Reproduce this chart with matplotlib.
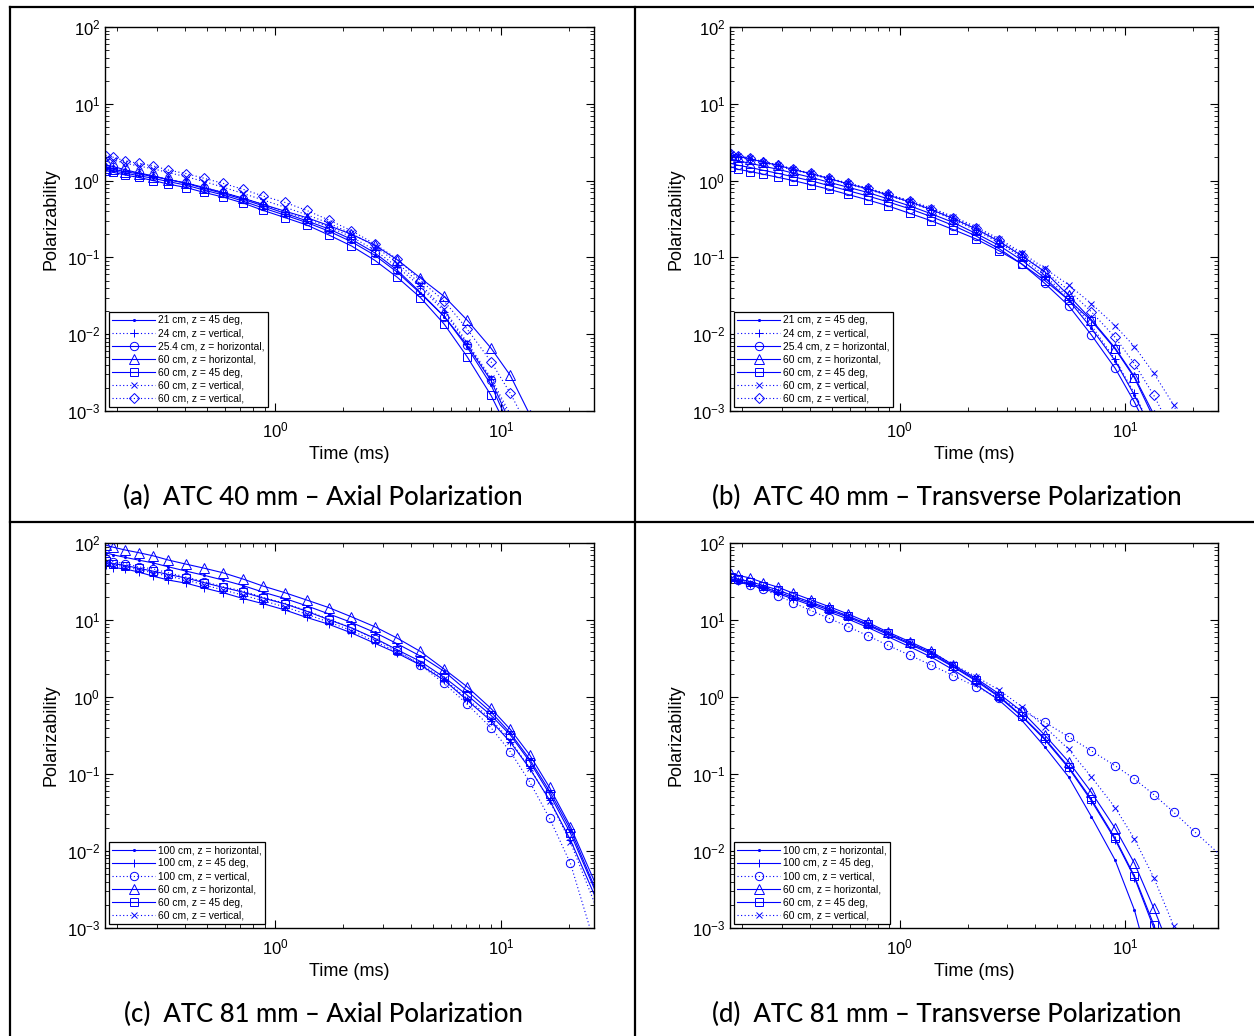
import numpy as np
import matplotlib
matplotlib.use("Agg")
import matplotlib.pyplot as plt
from matplotlib.lines import Line2D

plt.rcParams['font.family'] = ['Liberation Sans', 'DejaVu Sans']
plt.rcParams['mathtext.fontset'] = 'custom'
plt.rcParams['mathtext.rm'] = 'Liberation Sans'

# time gates (ms)
t = [0.178, 0.193, 0.218, 0.249, 0.290, 0.338, 0.406, 0.487, 0.590, 0.723, 0.885,
     1.107, 1.38, 1.73, 2.18, 2.76, 3.48, 4.40, 5.61, 7.08, 9.03, 11.0, 13.4, 16.4,
     20.3, 28.0]

# (a) ATC 40 mm - axial
a_21_45 = [1.40, 1.34, 1.25, 1.16, 1.07, 0.97, 0.87, 0.75, 0.65, 0.54, 0.44, 0.355, 0.285,
           0.22, 0.16, 0.107, 0.064, 0.034, 0.017, 0.0068, 0.0022, 0.0006, 0.0001]
a_24_vert = [1.50, 1.44, 1.34, 1.24, 1.14, 1.04, 0.93, 0.81, 0.70, 0.59, 0.49, 0.39, 0.32,
             0.25, 0.185, 0.125, 0.075, 0.042, 0.0196, 0.0075, 0.0026, 0.0008, 0.0001]
a_25_hor = [1.60, 1.52, 1.38, 1.26, 1.15, 1.03, 0.92, 0.79, 0.68, 0.57, 0.47, 0.375, 0.30,
            0.235, 0.172, 0.115, 0.068, 0.035, 0.017, 0.0072, 0.0025, 0.0007, 0.0001]
a_60_hor = [1.45, 1.40, 1.31, 1.22, 1.13, 1.03, 0.93, 0.81, 0.70, 0.59, 0.49, 0.40, 0.33,
            0.26, 0.20, 0.145, 0.093, 0.054, 0.031, 0.0153, 0.0066, 0.0029, 0.0009, 0.0002]
a_60_45 = [1.35, 1.28, 1.18, 1.10, 1.00, 0.90, 0.81, 0.70, 0.61, 0.51, 0.41, 0.33, 0.265,
           0.196, 0.141, 0.092, 0.055, 0.030, 0.0135, 0.0051, 0.0016, 0.0005, 0.0001]
a_60_vert = [1.95, 1.85, 1.68, 1.55, 1.42, 1.27, 1.12, 0.97, 0.82, 0.68, 0.56, 0.45, 0.36,
             0.28, 0.205, 0.14, 0.085, 0.045, 0.021, 0.0078, 0.0027, 0.0009, 0.0002]
a_60_vert2 = [2.11, 2.01, 1.80, 1.68, 1.55, 1.37, 1.23, 1.07, 0.92, 0.77, 0.63, 0.52, 0.41,
              0.307, 0.223, 0.15, 0.095, 0.05, 0.027, 0.0117, 0.0044, 0.0017, 0.00056, 0.0001]

# (b) ATC 40 mm - transverse
b_21_45 = [1.90, 1.80, 1.68, 1.54, 1.40, 1.25, 1.10, 0.95, 0.82, 0.70, 0.58, 0.47, 0.37,
           0.285, 0.205, 0.143, 0.092, 0.054, 0.028, 0.012, 0.0045, 0.0016, 0.0005, 0.0001]
b_24_vert = [2.10, 2.00, 1.88, 1.70, 1.55, 1.37, 1.21, 1.04, 0.90, 0.77, 0.64, 0.52, 0.41,
             0.31, 0.225, 0.155, 0.10, 0.058, 0.030, 0.013, 0.0047, 0.0017, 0.0005, 0.0001]
b_25_hor = [1.68, 1.58, 1.48, 1.36, 1.24, 1.12, 0.99, 0.86, 0.74, 0.63, 0.53, 0.43, 0.34,
            0.26, 0.19, 0.13, 0.082, 0.046, 0.0236, 0.0098, 0.0036, 0.0013, 0.0004, 0.0001]
b_60_hor = [2.15, 2.05, 1.92, 1.74, 1.58, 1.39, 1.23, 1.06, 0.91, 0.78, 0.65, 0.53, 0.42,
            0.32, 0.235, 0.162, 0.105, 0.065, 0.032, 0.0155, 0.0066, 0.0028, 0.0009, 0.0002]
b_60_45 = [1.52, 1.40, 1.31, 1.21, 1.10, 1.00, 0.88, 0.77, 0.66, 0.56, 0.47, 0.375, 0.30,
           0.23, 0.174, 0.122, 0.082, 0.05, 0.028, 0.015, 0.0064, 0.0027, 0.0008, 0.0002]
b_60_vert = [2.22, 2.09, 1.95, 1.76, 1.60, 1.41, 1.25, 1.08, 0.93, 0.80, 0.67, 0.55, 0.44,
             0.34, 0.25, 0.175, 0.115, 0.072, 0.044, 0.025, 0.0129, 0.0069, 0.0031, 0.0012,
             0.0003]
b_60_vert2 = [2.25, 2.10, 1.95, 1.77, 1.60, 1.40, 1.24, 1.07, 0.92, 0.79, 0.66, 0.54, 0.43,
              0.33, 0.24, 0.168, 0.108, 0.066, 0.0375, 0.0196, 0.0091, 0.0041, 0.0016, 0.0005,
              0.0001]

# (c) ATC 81 mm - axial
c_100_hor = [75, 70, 65, 60, 55, 49, 43, 38, 33, 28, 23, 19, 15.3, 12, 9.3, 6.9, 4.9, 3.4,
             2.15, 1.2, 0.64, 0.34, 0.155, 0.06, 0.019, 0.002]
c_100_45 = [52, 48, 46, 42, 37, 33, 30, 26, 22.6, 19, 16.3, 13.5, 10.8, 8.8, 6.8, 5.0, 3.7,
            2.6, 1.65, 0.91, 0.49, 0.26, 0.118, 0.046, 0.0139, 0.0016]
c_100_vert = [62, 57, 54, 49, 46, 41, 36, 31.5, 27, 23.8, 19.7, 16.5, 13.2, 10.3, 7.9, 5.7,
              4.0, 2.6, 1.5, 0.81, 0.40, 0.195, 0.079, 0.0266, 0.0069, 0.0003]
c_60_hor = [94, 88, 81, 75, 68, 60, 53, 47, 41, 34, 27.6, 22.6, 18.2, 14.5, 11.0, 8.2, 5.8,
            3.9, 2.3, 1.36, 0.71, 0.38, 0.177, 0.067, 0.0207, 0.0024]
c_60_45 = [58, 54, 51, 47, 43, 39, 35, 30.5, 26.5, 23, 19.3, 16.2, 13.0, 10.1, 7.9, 5.8, 4.1,
           2.9, 1.8, 1.06, 0.58, 0.32, 0.145, 0.055, 0.017, 0.0019]
c_60_vert = [56, 52, 49, 45, 41, 37, 33, 28.5, 24.5, 21, 17.8, 14.8, 11.9, 9.4, 7.3, 5.3,
             3.85, 2.7, 1.7, 0.95, 0.52, 0.27, 0.12, 0.045, 0.013, 0.0012]

# (d) ATC 81 mm - transverse
d_100_hor = [33, 31, 28.5, 25.5, 22, 18.7, 15.5, 12.7, 10.3, 8.0, 6.1, 4.5, 3.3, 2.25, 1.45,
             0.91, 0.5, 0.226, 0.092, 0.028, 0.0076, 0.0017, 0.0002]
d_100_45 = [34, 32, 29.5, 26.5, 23, 19.5, 16.3, 13.4, 10.9, 8.5, 6.5, 4.85, 3.6, 2.45, 1.62,
            1.0, 0.56, 0.28, 0.12, 0.045, 0.014, 0.0045, 0.001, 0.0002]
d_100_vert = [36, 33, 28.5, 25, 20.7, 16.8, 13.2, 10.5, 8.2, 6.25, 4.7, 3.5, 2.6, 1.9, 1.36,
              0.96, 0.66, 0.47, 0.305, 0.20, 0.128, 0.086, 0.054, 0.032, 0.0178, 0.0076]
d_60_hor = [40, 38, 35, 30.5, 26.6, 22.2, 18.2, 14.9, 12, 9.3, 7.0, 5.25, 3.9, 2.6, 1.75,
            1.1, 0.65, 0.32, 0.145, 0.058, 0.0197, 0.0069, 0.0018, 0.0004]
d_60_45 = [36, 34, 31.5, 28, 24.5, 20.5, 17, 14, 11.3, 8.8, 6.7, 5.0, 3.75, 2.5, 1.68, 1.03,
           0.57, 0.29, 0.124, 0.047, 0.0146, 0.0047, 0.0011, 0.0002]
d_60_vert = [35, 33, 30, 27, 23.5, 20, 16.8, 13.8, 11.2, 8.8, 6.8, 5.1, 3.85, 2.65, 1.84,
             1.23, 0.75, 0.41, 0.21, 0.092, 0.0366, 0.0143, 0.0045, 0.00107, 0.0002]

labels_40 = ['21 cm, z = 45 deg,', '24 cm, z = vertical,', '25.4 cm, z = horizontal,',
             '60 cm, z = horizontal,', '60 cm, z = 45 deg,', '60 cm, z = vertical,',
             '60 cm, z = vertical,']
labels_81 = ['100 cm, z = horizontal,', '100 cm, z = 45 deg,', '100 cm, z = vertical,',
             '60 cm, z = horizontal,', '60 cm, z = 45 deg,', '60 cm, z = vertical,']
styles_40 = [('-', '.'), (':', '+'), ('-', 'o'), ('-', '^'), ('-', 's'), (':', 'x'), (':', 'D')]
styles_81 = [('-', '.'), ('-', '+'), (':', 'o'), ('-', '^'), ('-', 's'), (':', 'x')]

panels = [
    ([a_21_45, a_24_vert, a_25_hor, a_60_hor, a_60_45, a_60_vert, a_60_vert2], labels_40, styles_40,
     '(a)  ATC 40 mm – Axial Polarization'),
    ([b_21_45, b_24_vert, b_25_hor, b_60_hor, b_60_45, b_60_vert, b_60_vert2], labels_40, styles_40,
     '(b)  ATC 40 mm – Transverse Polarization'),
    ([c_100_hor, c_100_45, c_100_vert, c_60_hor, c_60_45, c_60_vert], labels_81, styles_81,
     '(c)  ATC 81 mm – Axial Polarization'),
    ([d_100_hor, d_100_45, d_100_vert, d_60_hor, d_60_45, d_60_vert], labels_81, styles_81,
     '(d)  ATC 81 mm – Transverse Polarization'),
]

W, H = 1254, 1036
fig = plt.figure(figsize=(W / 100, H / 100), dpi=100)

# axes boxes in pixels: left, top, right, bottom
boxes = [(105, 27, 594, 411), (730, 27, 1218, 411), (105, 543, 594, 928), (730, 543, 1218, 928)]
cap_y = [497, 497, 1014, 1014]
cap_x = [323, 947, 323, 947]

blue = '#0000ff'
msize = {'.': 3, '+': 6, 'o': 6, '^': 6.5, 's': 5.5, 'x': 4.5, 'D': 5.5}

for i, (series, labels, styles, caption) in enumerate(panels):
    l, tp, r, b = boxes[i]
    ax = fig.add_axes([l / W, 1 - b / H, (r - l) / W, (b - tp) / H])
    for vals, lab, (ls, mk) in zip(series, labels, styles):
        if ls == ':':
            lstyle = (0, (1, 2.2))
        else:
            lstyle = '-'
        ax.plot(t[:len(vals)], vals, linestyle=lstyle, linewidth=0.8, color=blue,
                marker=mk, markersize=msize[mk], markerfacecolor='none' if mk != '.' else blue,
                markeredgewidth=0.7, label=lab)
    ax.set_xscale('log')
    ax.set_yscale('log')
    ax.set_xlim(0.177, 25.8)
    ax.set_ylim(1e-3, 1e2)
    ax.set_yticks([1e-3, 1e-2, 1e-1, 1e0, 1e1, 1e2])
    ax.tick_params(which='both', direction='in', top=True, right=True, labelsize=12)
    ax.tick_params(which='major', length=6, width=0.8)
    ax.tick_params(which='minor', length=3, width=0.6)
    ax.tick_params(axis='x', pad=7)
    for sp in ax.spines.values():
        sp.set_linewidth(1.0)
    ax.set_xlabel('Time (ms)', fontsize=13, labelpad=4)
    ax.set_ylabel('Polarizability', fontsize=13, labelpad=5)
    leg = ax.legend(loc='lower left', fontsize=7.4, frameon=True, fancybox=False,
                    edgecolor='black', framealpha=1, labelspacing=0.3, borderpad=0.3,
                    handlelength=4.2, handletextpad=0.3, borderaxespad=0.4)
    leg.get_frame().set_linewidth(0.9)
    fig.text(cap_x[i] / W, 1 - cap_y[i] / H, caption, fontsize=18.5, family='Lato',
             weight='medium', ha='center', va='center')

# panel frame lines
def hline(y, x0, x1):
    fig.add_artist(Line2D([x0 / W, x1 / W], [1 - y / H, 1 - y / H], color='black', linewidth=1.6))

def vline(x, y0, y1):
    fig.add_artist(Line2D([x / W, x / W], [1 - y0 / H, 1 - y1 / H], color='black', linewidth=1.6))

hline(7, 10, W)
hline(522, 10, W)
vline(10, 7, H)
vline(635, 7, H)

fig.savefig('out.png', dpi=100)
